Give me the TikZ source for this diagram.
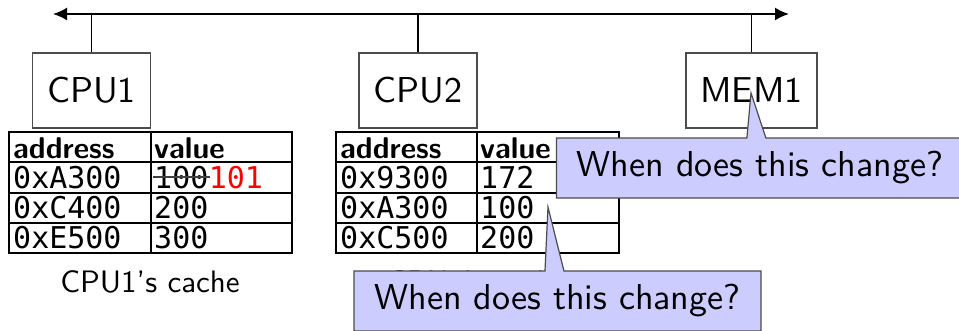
\documentclass[tikz,border=0pt]{standalone}
\usepackage{fontspec}
\setmonofont{DejaVu Sans Mono}
\setsansfont{lmsans10-regular.otf}[BoldFont=lmsans10-bold.otf]
\usetikzlibrary{arrows.meta,shapes.callouts}
\definecolor{callfill}{RGB}{204,204,255}
\begin{document}
\begin{tikzpicture}[x=1pt,y=-1pt,
  box/.style={draw=black!70,line width=1.2pt,minimum width=118pt,minimum height=75pt,inner sep=0pt,font=\sffamily\fontsize{36}{40}\selectfont},
  tline/.style={draw=black,line width=1.2pt},
  hd/.style={anchor=base west,inner sep=0pt,font=\sffamily\bfseries\fontsize{30}{34}\selectfont},
  cell/.style={anchor=base west,inner sep=0pt,font=\ttfamily\fontsize{30}{34}\selectfont},
  lbl/.style={inner sep=0pt,font=\sffamily\fontsize{31}{35}\selectfont},
  bubble/.style={rectangle callout,draw=black!70,line width=1.2pt,fill=callfill,minimum width=407pt,minimum height=60pt,inner sep=0pt,callout pointer width=19pt,font=\sffamily\fontsize{36}{40}\selectfont},
  bus/.style={line width=1.8pt,{Latex[length=14pt,width=13pt]}-{Latex[length=14pt,width=13pt]}},
  drop/.style={line width=1.5pt}]
\useasboundingbox (0,0) rectangle (959,330);
% bus
\coordinate (busL) at (53,14);
\coordinate (busR) at (789,14);
\draw[bus] (busL) -- (busR);
% boxes
\node[box] (cpu1) at (91.5,90.5) {CPU1};
\node[box] (cpu2) at (418,90.5) {CPU2};
\node[box,minimum width=131pt] (mem1) at (751.5,90.5) {MEM1};
\draw[drop] (cpu1.north) -- (cpu1.north |- busL);
\draw[drop] (cpu2.north) -- (cpu2.north |- busL);
\draw[drop] (mem1.north) -- (mem1.north |- busL);
% table 1
\coordinate (t1a) at (9,132);
\coordinate (t1b) at (292,253);
\draw[tline] (t1a) rectangle (t1b);
\draw[tline] (9,162) -- (292,162) (9,193) -- (292,193) (9,223) -- (292,223) (151,132) -- (151,253);
\node[hd] (h1a) at (13,158) {address};
\node[hd] (h1b) at (154,158) {value};
\node[cell] (a11) at (13,188) {0xA300};
\node[cell] (v11) at (154,188) {100};
\node[cell,text=red] (v11n) at (v11.base east) {101};
\draw[black!75,line width=1.2pt] ([xshift=-1pt]v11.west) -- ([xshift=1pt]v11.east);
\node[cell] (a12) at (13,218.5) {0xC400};
\node[cell] (v12) at (154,218.5) {200};
\node[cell] (a13) at (13,248.5) {0xE500};
\node[cell] (v13) at (154,248.5) {300};
\node[lbl] (c1lbl) at (150,282) {CPU1's cache};
% table 2
\draw[tline] (336,132) rectangle (619,253);
\draw[tline] (336,162) -- (619,162) (336,193) -- (619,193) (336,223) -- (619,223) (477,132) -- (477,253);
\node[hd] (h2a) at (340,158) {address};
\node[hd] (h2b) at (480,158) {value};
\node[cell] (a21) at (340,188) {0x9300};
\node[cell] (v21) at (480,188) {172};
\node[cell] (a22) at (340,218.5) {0xA300};
\node[cell] (v22) at (480,218.5) {100};
\node[cell] (a23) at (340,248.5) {0xC500};
\node[cell] (v23) at (480,248.5) {200};
\node[lbl] (c2lbl) at (477,282) {CPU2's cache};
% callouts
\node[bubble,callout absolute pointer={(751,93)}] (q1) at (760,168) {When does this change?};
\node[bubble,callout absolute pointer={(548,207)}] (q2) at (557.5,301) {When does this change?};
\end{tikzpicture}
\end{document}
